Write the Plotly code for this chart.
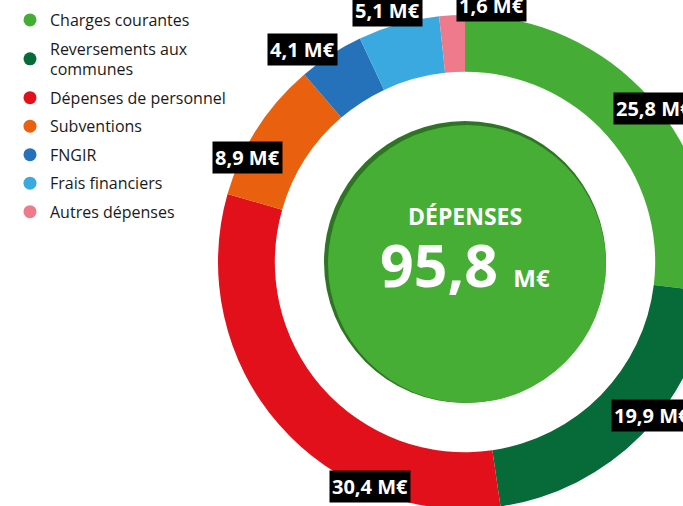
import math
import plotly.graph_objects as go

# ---- data ----
categories = ["Charges courantes", "Reversements aux communes", "Dépenses de personnel",
              "Subventions", "FNGIR", "Frais financiers", "Autres dépenses"]
legend_labels = ["Charges courantes", "Reversements aux<br>communes", "Dépenses de personnel",
                 "Subventions", "FNGIR", "Frais financiers", "Autres dépenses"]
values = [25.8, 19.9, 30.4, 8.9, 4.1, 5.1, 1.6]
center_title = "DÉPENSES"
unit = "M€"

# ---- styling ----
colors = ["#45ac35", "#066b38", "#e2101a", "#e9600e", "#2572ba", "#3aa9e0", "#ee7a8c"]
CENTER_GREEN = "#46ad35"
CENTER_SHADE = "#2e7424"

W, H = 720, 524          # figure larger than the 683x506 window; right side is cropped
CX, CY = 465, 262        # donut centre in px
R_OUT = 247
HOLE = 0.77
R_CENTER = 141

# label placement tweaks (angle offset in degrees, radius in px)
label_dangle = [2.5, -5, -26, -7, -4.5, -1.5, 9]
label_radius = [243, 242, 244, 241, 268, 263, 258]


def fmt(v):
    return f"{v:.1f}".replace(".", ",")


def dom(cx, cy, r):
    return dict(x=[(cx - r) / W, (cx + r) / W], y=[1 - (cy + r) / H, 1 - (cy - r) / H])


fig = go.Figure()

fig.add_trace(go.Pie(
    values=values, labels=categories, sort=False, direction="clockwise", rotation=0,
    hole=HOLE, marker=dict(colors=colors, line=dict(width=0)),
    textinfo="none", hoverinfo="label+value", showlegend=False,
    domain=dom(CX, CY, R_OUT),
))

total = sum(values)
# centre disc (shade + main)
fig.add_trace(go.Pie(values=[total], labels=[center_title], marker=dict(colors=[CENTER_SHADE], line=dict(width=0)),
                     textinfo="none", hoverinfo="skip", showlegend=False, sort=False,
                     domain=dom(CX, CY, R_CENTER)))
fig.add_trace(go.Pie(values=[total], labels=[center_title], marker=dict(colors=[CENTER_GREEN], line=dict(width=0)),
                     textinfo="none", hoverinfo="skip", showlegend=False, sort=False,
                     domain=dom(CX + 2, CY + 2, R_CENTER - 2)))

# legend entries (circle markers)
for i, (lab, c) in enumerate(zip(legend_labels, colors)):
    fig.add_trace(go.Scatter(x=[None], y=[None], mode="markers", name=lab,
                             legendgroup=str(i),
                             marker=dict(size=13, color=c, symbol="circle")))

annotations = []
cum = 0.0
for i, v in enumerate(values):
    mid = (cum + v / 2) / total * 360 + label_dangle[i]
    cum += v
    r = label_radius[i]
    px = CX + r * math.sin(math.radians(mid))
    py = CY - r * math.cos(math.radians(mid))
    annotations.append(dict(
        x=px / W, y=1 - py / H, xref="paper", yref="paper",
        text=f"<b>{fmt(v)} {unit}</b>", showarrow=False,
        font=dict(family="Open Sans", size=20, color="white"),
        bgcolor="black", borderpad=2, xanchor="center", yanchor="middle",
    ))

annotations.append(dict(
    x=CX / W, y=1 - 216 / H, xref="paper", yref="paper", showarrow=False,
    text=f"<b>{center_title}</b>", font=dict(family="Open Sans", size=23, color="white"),
    xanchor="center", yanchor="middle"))
annotations.append(dict(
    x=CX / W, y=1 - 264 / H, xref="paper", yref="paper", showarrow=False,
    text=f"<b>{fmt(total)}</b> <b><span style='font-size:24px'>{unit}</span></b>",
    font=dict(family="Open Sans", size=59, color="white"),
    xanchor="center", yanchor="middle"))

fig.update_layout(
    width=W, height=H,
    margin=dict(l=0, r=0, t=0, b=0),
    paper_bgcolor="white", plot_bgcolor="white",
    xaxis=dict(visible=False), yaxis=dict(visible=False),
    showlegend=True,
    legend=dict(x=10 / W, y=1 - 3 / H, xanchor="left", yanchor="top",
                font=dict(family="Open Sans", size=16, color="#1a1a1a"),
                tracegroupgap=4.7, bgcolor="rgba(0,0,0,0)"),
    annotations=annotations,
)

post = """
var gd = document.getElementById('{plot_id}');
document.documentElement.style.overflow = 'hidden';
document.body.style.margin = '0';
document.body.style.overflow = 'hidden';
var p = gd.parentElement;
p.style.width = '683px'; p.style.height = '506px'; p.style.overflow = 'hidden';
"""
fig.write_html("out.html", post_script=post, config={"displayModeBar": False})
